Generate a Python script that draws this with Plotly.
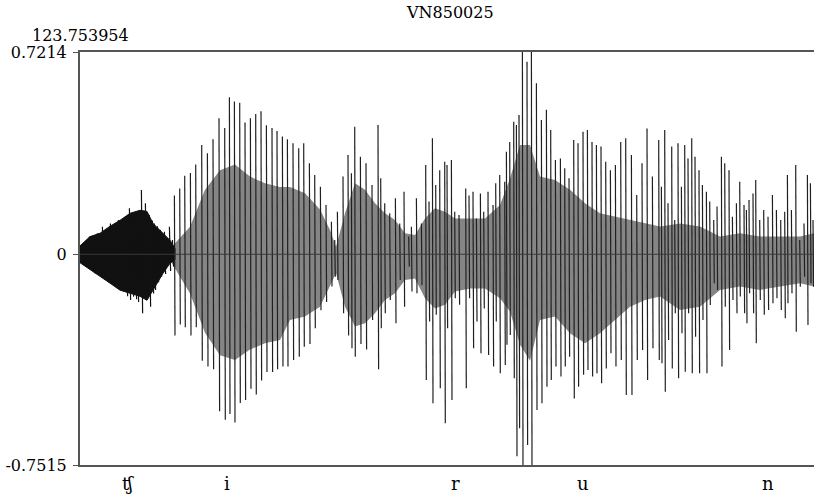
import plotly.graph_objects as go

# ---- data (time in display units, amplitude in signal units) ----
title_text = "VN850025"
start_label = "123.753954"
y_ticks = [0.7214, 0, -0.7515]
y_ticktext = ["0.7214", "0", "-0.7515"]

seg_labels = ["ʧ", "i", "r", "u", "n"]
seg_t = [48, 147, 375, 503, 688]

# fricative noise envelope
noise_env_t = [0, 10, 20, 30, 40, 50, 60, 67, 73, 83, 90, 95]
noise_env_up = [0.03, 0.063, 0.075, 0.10, 0.121, 0.146, 0.157, 0.153, 0.11, 0.075, 0.05, 0.02]
noise_env_lo = [-0.03, -0.056, -0.078, -0.103, -0.128, -0.139, -0.15, -0.164, -0.128, -0.068, -0.032, -0.02]

# fricative noise extreme spikes
noise_t = [2, 6, 10, 14, 18, 23, 27, 31, 35, 39, 43, 47, 50, 53, 56, 58, 62, 66, 70, 73, 75, 78, 81, 85, 90, 93]
noise_top = [0.033, 0.04, 0.063, 0.06, 0.075, 0.098, 0.09, 0.11, 0.105, 0.122, 0.12, 0.13, 0.164, 0.146,
             0.14, 0.152, 0.229, 0.182, 0.14, 0.12, 0.11, 0.10, 0.087, 0.08, 0.098, 0.051]
noise_bot = [-0.032, -0.045, -0.05, -0.068, -0.07, -0.085, -0.092, -0.103, -0.11, -0.12, -0.127, -0.15, -0.163,
             -0.151, -0.16, -0.17, -0.21, -0.163, -0.187, -0.14, -0.127, -0.10, -0.08, -0.07, -0.06, -0.044]

# dense secondary oscillation envelope (grey band)
env_t = [90, 110, 125, 140, 155, 170, 185, 200, 210, 225, 240, 250, 256, 265, 275, 285, 295, 305, 315, 325,
         335, 345, 355, 365, 375, 390, 405, 420, 430, 440, 450, 460, 475, 490, 505, 520, 535, 550, 565, 580,
         600, 620, 640, 660, 680, 700, 720, 734]
env_up = [0.02, 0.098, 0.23, 0.30, 0.32, 0.277, 0.253, 0.24, 0.24, 0.218, 0.16, 0.087, 0.027, 0.146, 0.253,
          0.23, 0.182, 0.146, 0.122, 0.075, 0.069, 0.128, 0.164, 0.152, 0.128, 0.128, 0.128, 0.176, 0.27, 0.39,
          0.39, 0.277, 0.265, 0.23, 0.182, 0.146, 0.134, 0.122, 0.11, 0.099, 0.11, 0.099, 0.063, 0.075, 0.063,
          0.063, 0.063, 0.075]
env_lo = [-0.02, -0.14, -0.28, -0.36, -0.377, -0.34, -0.317, -0.306, -0.234, -0.222, -0.187, -0.115, -0.068,
          -0.187, -0.258, -0.246, -0.21, -0.163, -0.139, -0.092, -0.086, -0.157, -0.193, -0.18, -0.133, -0.122,
          -0.122, -0.157, -0.204, -0.323, -0.38, -0.234, -0.222, -0.282, -0.317, -0.282, -0.234, -0.187, -0.163,
          -0.151, -0.199, -0.187, -0.127, -0.115, -0.127, -0.115, -0.103, -0.115]

# glottal pulse spikes: time, positive peak, negative peak
pulse_t = [94.7, 100, 105, 110.7, 116, 122, 127.7, 133.3, 139.3, 145, 149.7, 154.7, 160, 165.3, 170.7, 176,
           181.3, 186.7, 192.3, 197.3, 202.7,
           207.7, 213.3, 219, 224, 229.7, 235, 240.7, 246.3, 251.7, 255, 257.7, 263.3, 268.3, 271.7, 275, 280.7,
           286.3, 292.3, 298.3, 301, 305, 310, 315.7, 320, 324.3, 329,
           331.7, 336.7, 341.7, 346, 349.3, 352.7, 356, 360, 365, 367.3, 371.7, 375, 379.3, 386, 389.3, 393.3,
           396.7, 400.7, 404, 408.3, 413.3, 416, 420, 425, 426.7, 430, 434, 436.7, 439.3, 442.7, 447.3, 451.7,
           456.7, 461.7, 466.7, 471, 475.7, 480.7, 485, 489.3, 494, 498.3, 503.3, 507.7, 512.3, 516.7, 521.3, 526,
           530.7, 535.7, 541, 546, 551.7, 557, 562.3, 567.3, 572.7, 579,
           581.7, 585, 588.3, 592, 595, 598.3, 601.7, 605, 608.3, 612, 615.3, 619.3, 622.7, 626.7, 630, 634,
           637.3, 641.7, 645, 649.3, 652.7, 656.7, 660, 664.3, 666.7, 669.3, 673.3, 676, 680, 684, 688.3, 692.7,
           696.7, 701, 705, 707.7, 711.7, 716, 720, 724.3, 727.7, 730.7, 733.3]
pulse_top = [0.21, 0.235, 0.28, 0.29, 0.32, 0.39, 0.36, 0.41, 0.485, 0.45, 0.56, 0.545, 0.54, 0.47, 0.485, 0.50,
             0.51, 0.46, 0.45, 0.44, 0.42,
             0.41, 0.396, 0.378, 0.396, 0.325, 0.283, 0.241, 0.176, 0.116, 0.051, 0.152, 0.277, 0.354, 0.289,
             0.455, 0.348, 0.325, 0.247, 0.461, 0.271, 0.182, 0.146, 0.20, 0.11, 0.223, 0.063,
             0.098, 0.20, 0.11, 0.318, 0.188, 0.414, 0.247, 0.30, 0.33, 0.318, 0.336, 0.152, 0.14, 0.235, 0.21,
             0.223, 0.128, 0.217, 0.152, 0.223, 0.176, 0.253, 0.283, 0.259, 0.366, 0.40, 0.473, 0.461, 0.497,
             0.74, 0.687, 0.74,
             0.61, 0.479, 0.515, 0.443, 0.336, 0.342, 0.307, 0.271, 0.408, 0.396, 0.437, 0.443, 0.40, 0.39, 0.384,
             0.33, 0.30, 0.318, 0.40, 0.414, 0.354, 0.211, 0.325, 0.449, 0.277, 0.408,
             0.241, 0.443, 0.182, 0.384, 0.122, 0.396, 0.241, 0.39, 0.342, 0.414, 0.348, 0.30, 0.247, 0.223,
             0.188, 0.122, 0.17, 0.348, 0.325, 0.30, 0.134, 0.182, 0.259, 0.176, 0.158, 0.194, 0.217, 0.265,
             0.122, 0.158, 0.134, 0.211, 0.158, 0.122, 0.152, 0.283, 0.158, 0.318, 0.051, 0.11, 0.283, 0.253,
             0.122]
pulse_bot = [-0.29, -0.25, -0.26, -0.29, -0.26, -0.38, -0.40, -0.41, -0.56, -0.59, -0.57, -0.60, -0.53, -0.52,
             -0.48, -0.50, -0.45, -0.42, -0.42, -0.41, -0.40,
             -0.40, -0.377, -0.365, -0.33, -0.32, -0.264, -0.20, -0.17, -0.115, -0.08, -0.092, -0.21, -0.29,
             -0.335, -0.365, -0.32, -0.34, -0.234, -0.41, -0.264, -0.21, -0.163, -0.246, -0.092, -0.187, -0.044,
             -0.133, -0.139, -0.11, -0.448, -0.24, -0.531, -0.216, -0.478, -0.603, -0.264, -0.52, -0.157, -0.18,
             -0.478, -0.157, -0.335, -0.24, -0.353, -0.193, -0.359, -0.40, -0.24, -0.424, -0.395, -0.323, -0.288,
             -0.442, -0.72, -0.62, -0.77, -0.68, -0.77,
             -0.555, -0.531, -0.472, -0.448, -0.40, -0.436, -0.40, -0.365, -0.514, -0.472, -0.43, -0.413, -0.436,
             -0.424, -0.46, -0.407, -0.353, -0.40, -0.377, -0.502, -0.502, -0.377, -0.341, -0.448, -0.335, -0.377,
             -0.389, -0.49, -0.306, -0.407, -0.21, -0.442, -0.282, -0.419, -0.21, -0.424, -0.294, -0.424, -0.234,
             -0.424, -0.181, -0.103, -0.127, -0.40, -0.187, -0.341, -0.163, -0.21, -0.151, -0.21, -0.246, -0.139,
             -0.21, -0.317, -0.163, -0.216, -0.199, -0.175, -0.157, -0.199, -0.228, -0.175, -0.139, -0.276,
             -0.116, -0.08, -0.252, -0.103, -0.116]

T_MAX = 734
FONT = "DejaVu Serif"


def spike_segments(ts, tops, bots, half=0.3):
    xs, ys = [], []
    for t, a, b in zip(ts, tops, bots):
        xs += [t - half, t + half, None]
        ys += [a, b, None]
    return xs, ys


fig = go.Figure()

# grey band of dense oscillation
fig.add_trace(go.Scatter(
    x=env_t + env_t[::-1], y=env_up + env_lo[::-1], mode="lines", fill="toself",
    fillcolor="#858585", line=dict(width=0, color="#858585"), hoverinfo="skip"))

# black fricative noise
fig.add_trace(go.Scatter(
    x=noise_env_t + noise_env_t[::-1], y=noise_env_up + noise_env_lo[::-1], mode="lines", fill="toself",
    fillcolor="#111111", line=dict(width=1, color="#111111"), hoverinfo="skip"))

nx, ny = spike_segments(noise_t, noise_top, noise_bot, half=0.6)
fig.add_trace(go.Scatter(x=nx, y=ny, mode="lines", line=dict(width=1.2, color="#111111"),
                         hoverinfo="skip"))

px, py = spike_segments(pulse_t, pulse_top, pulse_bot)
fig.add_trace(go.Scatter(x=px, y=py, mode="lines", line=dict(width=1.2, color="#202020"),
                         hoverinfo="skip"))

# zero line above traces
fig.add_shape(type="line", xref="paper", x0=0, x1=1, yref="y", y0=0, y1=0,
              line=dict(color="#3a3a3a", width=1), layer="above")

annotations = []
for lab, t in zip(seg_labels, seg_t):
    annotations.append(dict(x=t, xref="x", y=-0.044, yref="paper", text=lab, showarrow=False,
                            xanchor="center", yanchor="middle",
                            font=dict(family=FONT, size=18, color="#000")))
annotations.append(dict(x=-0.068, xref="paper", y=1.041, yref="paper", text=start_label,
                        showarrow=False, xanchor="left", yanchor="middle",
                        font=dict(family=FONT, size=16, color="#000")))
annotations.append(dict(x=0.504, xref="paper", y=1.0 + 39 / 413, yref="paper", text=title_text,
                        showarrow=False, xanchor="center", yanchor="middle",
                        font=dict(family=FONT, size=16, color="#000")))

fig.update_layout(
    width=814, height=495,
    margin=dict(l=80, r=0, t=52, b=30, pad=0, autoexpand=False),
    paper_bgcolor="white", plot_bgcolor="white",
    showlegend=False,
    annotations=annotations,
    xaxis=dict(range=[0, T_MAX], showline=True, mirror=True, linecolor="#555", linewidth=2,
               showticklabels=False, ticks="", showgrid=False, zeroline=False, fixedrange=True,
               automargin=False),
    yaxis=dict(range=[y_ticks[2], y_ticks[0]], tickvals=y_ticks, ticktext=y_ticktext,
               ticks="outside", ticklen=5, tickcolor="#555", tickwidth=1,
               showline=True, linecolor="#555", linewidth=2, showgrid=False, zeroline=False,
               tickfont=dict(family=FONT, size=16, color="#000"), ticklabelstandoff=3,
               automargin=False),
)

# remove the browser's default 8 px body margin so the figure fills the window exactly
fig.write_html("out.html", config={"displayModeBar": False},
               post_script="document.body.style.margin='0';document.body.style.overflow='hidden';")
